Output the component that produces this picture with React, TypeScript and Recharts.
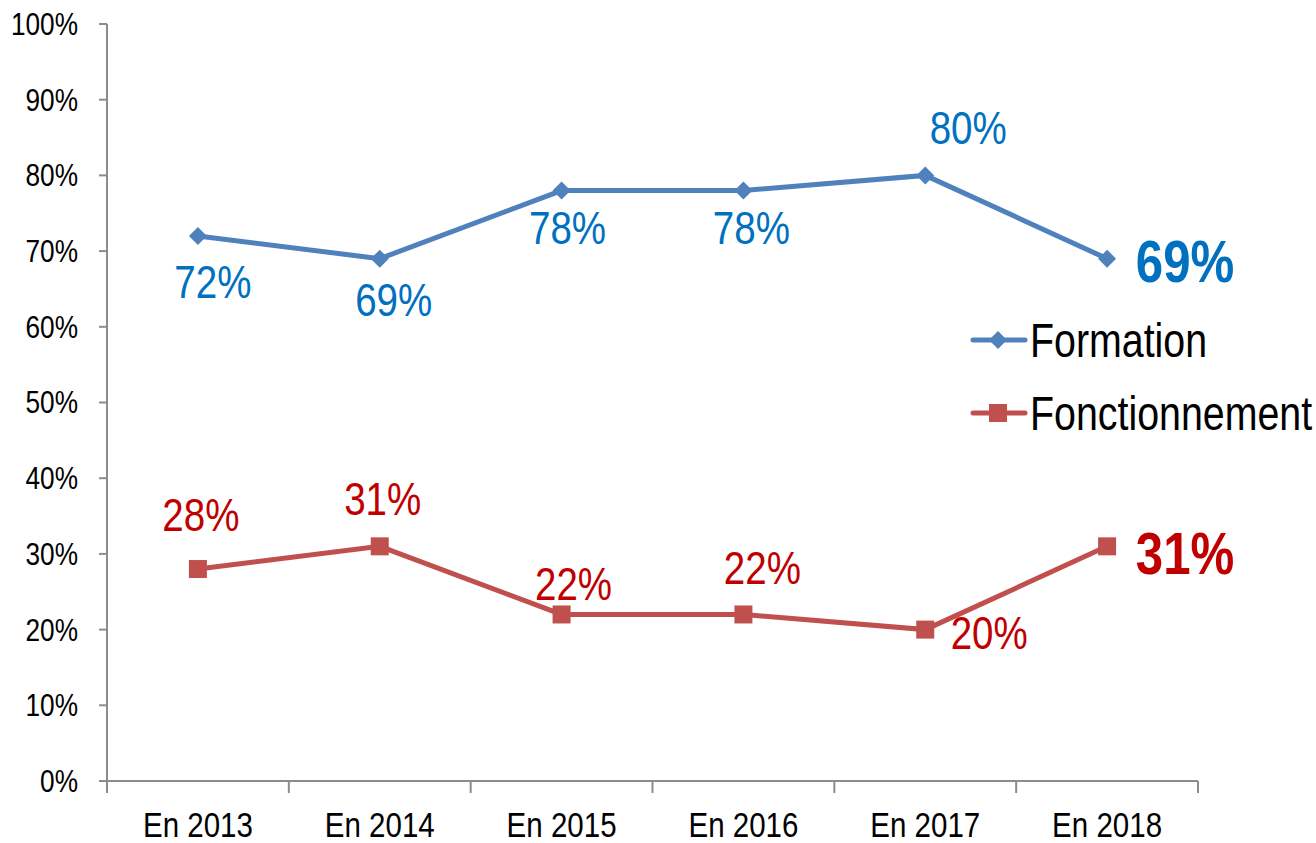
import { LineChart, Line, XAxis, YAxis, LabelList } from "recharts";

const years = ["En 2013", "En 2014", "En 2015", "En 2016", "En 2017", "En 2018"];
const formation = [72, 69, 78, 78, 80, 69];
const fonctionnement = [28, 31, 22, 22, 20, 31];
const yTicks = [0, 10, 20, 30, 40, 50, 60, 70, 80, 90, 100];

// label offsets (dx, dy) from each point, like the hand-placed Excel labels
const formationOffsets = [
  [15, 46],
  [14, 41],
  [6, 37],
  [8, 37],
  [43, -48],
  [78, 3],
];
const fonctionnementOffsets = [
  [3, -54],
  [3, -48],
  [12, -31],
  [19, -47],
  [64, 3],
  [78, 7],
];

const data = years.map((year, i) => ({
  year,
  formation: formation[i],
  fonctionnement: fonctionnement[i],
}));

const FONT = "'Liberation Sans', Arial, sans-serif";
const BLUE = "#4F81BD";
const RED = "#C0504D";
const BLUE_TXT = "#0070C0";
const RED_TXT = "#C00000";
const AXIS = "#8c8c8c";
const STEP = (1198 - 107) / 6;
const NARROW = 0.82;

// Arial Narrow look-alike: Liberation Sans squeezed horizontally
const NarrowText = ({ x, y, size, anchor = "middle", color = "#000", bold = false, children }: any) => (
  <text
    transform={`translate(${x},${y}) scale(${NARROW},1)`}
    textAnchor={anchor}
    dominantBaseline="central"
    fill={color}
    fontSize={size}
    fontWeight={bold ? "bold" : "normal"}
    fontFamily={FONT}
  >
    {children}
  </text>
);

const makeLabel = (offsets: number[][], color: string) => (props: any) => {
  const { x, y, value, index } = props;
  const last = index === offsets.length - 1;
  const [dx, dy] = offsets[index];
  return (
    <NarrowText x={x + dx} y={y + dy} size={last ? 60 : 47} bold={last} color={color}>
      {value}%
    </NarrowText>
  );
};

const Diamond = (props: any) => {
  const { cx, cy } = props;
  const s = 9;
  return (
    <path
      d={`M${cx},${cy - s}L${cx + s},${cy}L${cx},${cy + s}L${cx - s},${cy}Z`}
      fill={BLUE}
    />
  );
};

const Square = (props: any) => {
  const { cx, cy } = props;
  return <rect x={cx - 9} y={cy - 9} width={18} height={18} fill={RED} />;
};

const XTick = (props: any) => {
  const { x, payload, index } = props;
  const y = 781;
  return (
    <g>
      <line x1={x - STEP / 2} y1={y} x2={x - STEP / 2} y2={y + 12} stroke={AXIS} strokeWidth={2} />
      {index === 5 && (
        <line x1={x + STEP / 2} y1={y} x2={x + STEP / 2} y2={y + 12} stroke={AXIS} strokeWidth={2} />
      )}
      <NarrowText x={x} y={y + 43} size={36}>
        {payload.value}
      </NarrowText>
    </g>
  );
};

const YTick = (props: any) => {
  const { y, payload } = props;
  return (
    <NarrowText x={78} y={y} size={32} anchor="end">
      {payload.value}%
    </NarrowText>
  );
};

const Legend = () => (
  <svg width={346} height={150} style={{ position: "absolute", left: 970, top: 312 }}>
    <line x1={3} y1={28} x2={55} y2={28} stroke={BLUE} strokeWidth={5} strokeLinecap="round" />
    <path d="M28,19L37,28L28,37L19,28Z" fill={BLUE} />
    <NarrowText x={60} y={28} size={48} anchor="start">
      Formation
    </NarrowText>
    <line x1={3} y1={101} x2={55} y2={101} stroke={RED} strokeWidth={5} strokeLinecap="round" />
    <rect x={19} y={92} width={18} height={18} fill={RED} />
    <NarrowText x={60} y={101} size={48} anchor="start">
      Fonctionnement
    </NarrowText>
  </svg>
);

export default function App() {
  return (
    <div style={{ position: "absolute", left: 0, top: 0, width: 1316, height: 843, background: "#fff" }}>
      <LineChart
        width={1316}
        height={843}
        data={data}
        margin={{ top: 24, right: 118, bottom: 12, left: 27 }}
      >
        <XAxis
          dataKey="year"
          stroke={AXIS}
          strokeWidth={2}
          tickLine={false}
          tick={<XTick />}
          height={50}
          interval={0}
          padding={{ left: STEP / 2, right: STEP / 2 }}
        />
        <YAxis
          domain={[0, 100]}
          ticks={yTicks}
          interval={0}
          width={80}
          stroke={AXIS}
          strokeWidth={2}
          tickSize={8}
          tickLine={{ stroke: AXIS, strokeWidth: 2 }}
          tick={<YTick />}
        />
        <Line
          dataKey="formation"
          stroke={BLUE}
          strokeWidth={5}
          dot={<Diamond />}
          isAnimationActive={false}
        >
          <LabelList dataKey="formation" content={makeLabel(formationOffsets, BLUE_TXT)} />
        </Line>
        <Line
          dataKey="fonctionnement"
          stroke={RED}
          strokeWidth={5}
          dot={<Square />}
          isAnimationActive={false}
        >
          <LabelList dataKey="fonctionnement" content={makeLabel(fonctionnementOffsets, RED_TXT)} />
        </Line>
      </LineChart>
      <Legend />
    </div>
  );
}
